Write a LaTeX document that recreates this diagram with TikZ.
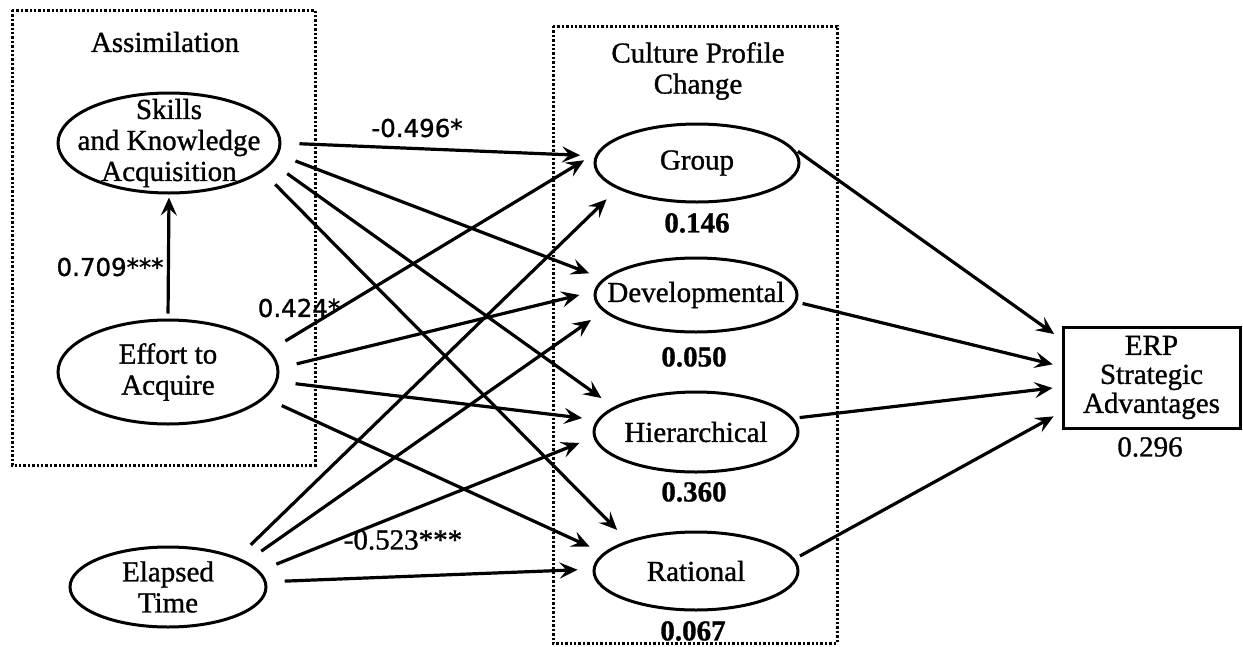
\documentclass[tikz,border=0pt]{standalone}
\usepackage{fontspec}
\setmainfont{Liberation Serif}[FakeBold=1]
\newfontfamily\labelsans{DejaVu Sans}[FakeBold=1.2]
\usetikzlibrary{arrows.meta,shapes.geometric}
\begin{document}
\begin{tikzpicture}[x=1pt,y=-1pt,
  every node/.style={font=\fontsize{29}{31}\selectfont, inner sep=0pt},
  latent/.style={draw, ellipse, line width=3pt},
  txt/.style={align=center},
  outcome/.style={draw, rectangle, line width=3pt, align=center,
    minimum width=177pt, minimum height=101pt},
  groupbox/.style={line width=3pt, dash pattern=on 2.4pt off 2pt},
  tip/.style={-{Stealth[length=18pt,width=16pt,inset=7pt]}},
  inpath/.style={tip, line width=3.2pt, shorten <=18pt, shorten >=15pt},
  outpath/.style={tip, line width=3.2pt, shorten <=6pt, shorten >=9pt},
  coef/.style={font=\fontsize{29}{31}\selectfont\bfseries},
  plaincoef/.style={font=\fontsize{29}{31}\selectfont},
  sanscoef/.style={font=\labelsans\fontsize{24.5}{28}\selectfont}
]
\useasboundingbox (0,0) rectangle (1243,646);

% grouping frames
\draw[groupbox] (12,10) rectangle (315,465);
\draw[groupbox] (553,26) rectangle (837,643);
\node[txt] (asm) at (165,42) {Assimilation};
\node[txt] (cpc) at (698,71) {Culture Profile\\Change};

% constructs on the left
\node[latent, minimum width=222pt, minimum height=100pt] (sk) at (169,143) {};
\node[txt] (skt) at (sk.center) {Skills\\and Knowledge\\Acquisition};
\node[latent, minimum width=220pt, minimum height=104pt] (eff) at (168,372) {};
\node[txt] (efft) at (eff.center) {Effort to\\Acquire};
\node[latent, minimum width=196pt, minimum height=80pt] (ela) at (168,587) {};
\node[txt] (elat) at (ela.center) {Elapsed\\Time};

% culture types
\node[latent, minimum width=204pt, minimum height=78pt] (grp) at (697,163) {};
\node (grpt) at (grp.center) {Group};
\node[latent, minimum width=202pt, minimum height=74pt] (dev) at (696,295) {};
\node (devt) at (dev.center) {Developmental};
\node[latent, minimum width=204pt, minimum height=80pt] (hie) at (696,432) {};
\node (hiet) at (hie.center) {Hierarchical};
\node[latent, minimum width=204pt, minimum height=78pt] (rat) at (696,571) {};
\node (ratt) at (rat.center) {Rational};

% outcome
\node[outcome] (erp) at (1151.5,377.5) {ERP\\[-2pt]Strategic\\[-2pt]Advantages};

% explained variance
\node[coef] (r1) at (697,223) {0.146};
\node[coef] (r2) at (694,357) {0.050};
\node[coef] (r3) at (694,492) {0.360};
\node[coef] (r4) at (693,631) {0.067};
\node[plaincoef] (r5) at (1150,447) {0.296};

% paths
\draw[tip, line width=3.2pt, shorten <=5pt, shorten >=3pt] (eff.north) -- (sk.south);

\draw[inpath] (sk.0) -- (grp.176);
\draw[inpath] (sk.-6) -- (dev.170);
\draw[inpath] (sk.-11.5) -- (hie.163);
\draw[inpath] (sk.-17) -- (rat.156);

\draw[inpath] (eff.12) -- (grp.174);
\draw[inpath] (eff.2) -- (dev.178.5);
\draw[inpath] (eff.-5) -- (hie.173);
\draw[inpath] (eff.-15) -- (rat.169);

\draw[inpath] (ela.23) -- (grp.-162.5);
\draw[inpath] (ela.18) -- (dev.-170);
\draw[inpath] (ela.10) -- (hie.-177.4);
\draw[inpath] (ela.3) -- (rat.179.5);

\draw[outpath] (grp.9) -- (erp.157);
\draw[outpath] (dev.-4) -- (erp.173);
\draw[outpath] (hie.8) -- (erp.-174.5);
\draw[outpath] (rat.7) -- (erp.-159.6);

% path coefficients
\node[sanscoef] (c1) at (110,267) {0.709***};
\node[sanscoef] (c2) at (417,128) {-0.496*};
\node[sanscoef] (c3) at (299,308) {0.424*};
\node[plaincoef] (c4) at (403,540) {-0.523***};
\end{tikzpicture}
\end{document}
